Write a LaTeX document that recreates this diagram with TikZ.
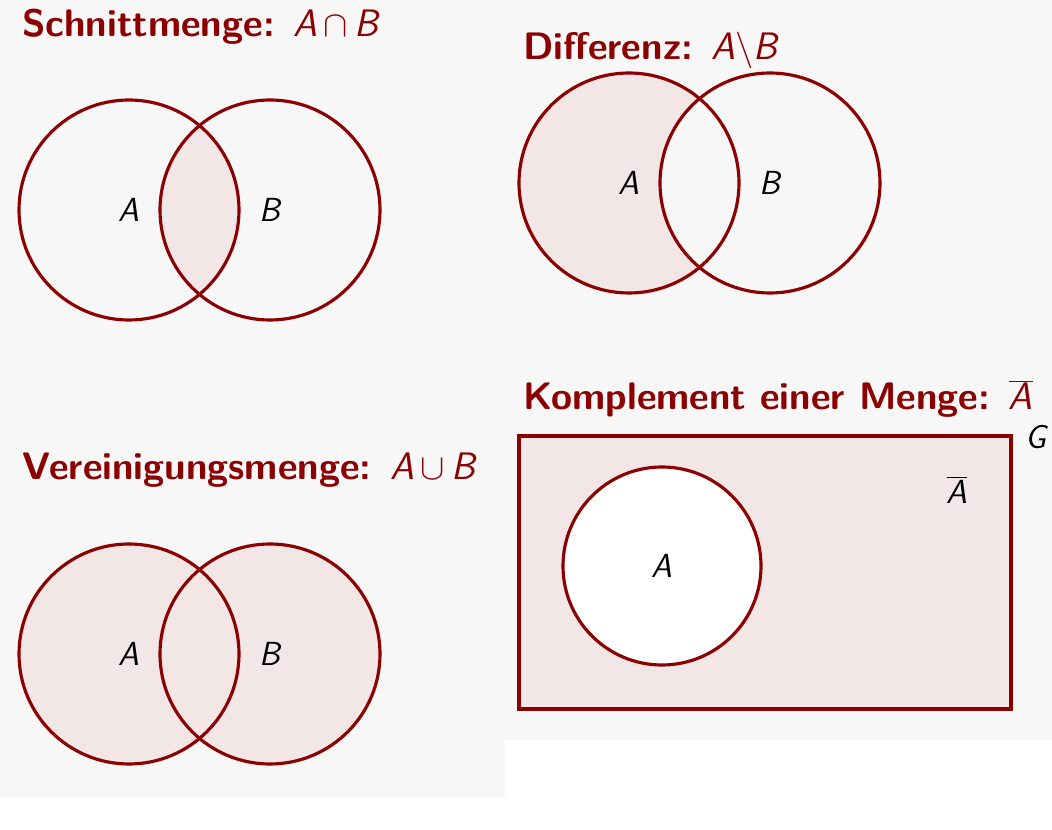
\documentclass[tikz,border=0pt]{standalone}
\usepackage{xcolor}
\usetikzlibrary{positioning}
\definecolor{setRed}{RGB}{139,0,0}
\definecolor{setTint}{RGB}{242,230,230}
\definecolor{setBack}{RGB}{247,247,247}

\begin{document}
\begin{tikzpicture}[
    x=0.02cm, y=-0.02cm,
    settitle/.style={anchor=base west, inner sep=0pt, text=setRed, font=\fontsize{21.8}{26}\selectfont\sffamily\bfseries},
    setlabel/.style={inner sep=0pt, font=\fontsize{19}{23}\selectfont\sffamily\itshape},
    setline/.style={draw=setRed, line width=1.8pt},
    setfill/.style={fill=setTint}
]
    \useasboundingbox (0,0) rectangle (1052,830);
    \fill[setBack] (0,0) rectangle (505,797);
    \fill[setBack] (505,0) rectangle (1052,740);

    % Schnittmenge
    \coordinate (interA) at (129,210);
    \coordinate (interB) at (270,210);
    \begin{scope}
        \clip (interA) circle (110);
        \fill[setfill] (interB) circle (110);
    \end{scope}
    \draw[setline] (interA) circle (110);
    \draw[setline] (interB) circle (110);
    \node[setlabel] (interAlab) at (interA) {A};
    \node[setlabel] (interBlab) at (interB) {B};
    \node[settitle] (intertitle) at (22,37) {Schnittmenge: {\mdseries\itshape A}\,$\cap$\,{\mdseries\itshape B}};

    % Differenz
    \coordinate (diffA) at (629,183);
    \coordinate (diffB) at (770,183);
    \fill[setfill] (diffA) circle (110);
    \fill[setBack] (diffB) circle (110);
    \draw[setline] (diffA) circle (110);
    \draw[setline] (diffB) circle (110);
    \node[setlabel] (diffAlab) at (diffA) {A};
    \node[setlabel] (diffBlab) at (diffB) {B};
    \node[settitle] (difftitle) at (523,60) {Differenz: {\mdseries\itshape A}$\backslash${\mdseries\itshape B}};

    % Vereinigungsmenge
    \coordinate (unionA) at (129,654);
    \coordinate (unionB) at (270,654);
    \fill[setfill] (unionA) circle (110);
    \fill[setfill] (unionB) circle (110);
    \draw[setline] (unionA) circle (110);
    \draw[setline] (unionB) circle (110);
    \node[setlabel] (unionAlab) at (unionA) {A};
    \node[setlabel] (unionBlab) at (unionB) {B};
    \node[settitle] (uniontitle) at (22,480) {Vereinigungsmenge: {\mdseries\itshape A}\,$\cup$\,{\mdseries\itshape B}};

    % Komplement
    \draw[setline, setfill] (519,436) rectangle (1011,709);
    \coordinate (compA) at (662,566);
    \draw[setline, fill=white] (compA) circle (99);
    \node[setlabel] (compAlab) at (compA) {A};
    \node[setlabel] (compbar) at (957,490) {$\overline{\mbox{\itshape A}}$};
    \node[setlabel] (compG) at (1036,437) {G};
    \node[settitle] (comptitle) at (523,410) {Komplement einer Menge: {\mdseries$\overline{\mbox{\itshape A}}$}};
\end{tikzpicture}
\end{document}
